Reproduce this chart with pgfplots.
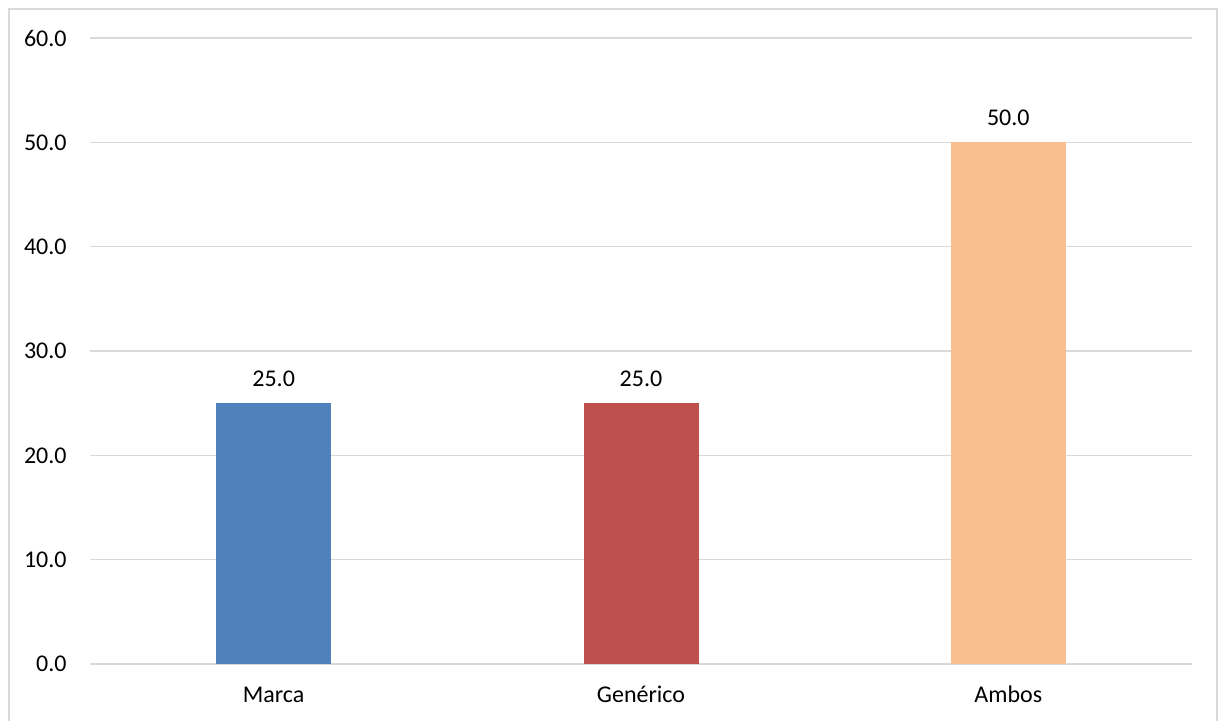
\documentclass[border=0pt]{standalone}
\usepackage{fontspec}
\setmainfont{Carlito}
\usepackage{pgfplots}
\pgfplotsset{compat=1.18}
\definecolor{cblue}{HTML}{4F81BD}
\definecolor{cred}{HTML}{C0504D}
\definecolor{cpeach}{HTML}{F9BF8F}
\definecolor{cgrid}{HTML}{D9D9D9}
\definecolor{cborder}{HTML}{D9D9D9}
\begin{document}
\begin{tikzpicture}[font=\fontsize{12}{14}\selectfont]
\path[use as bounding box, fill=white] (0,0) rectangle (611pt,360.5pt);
\draw[color=cborder, line width=1pt] (4.5pt,-1pt) -- (4.5pt,356pt) -- (608.5pt,356pt) -- (608.5pt,-1pt);
\begin{axis}[
  at={(45pt,28.5pt)}, anchor=south west,
  scale only axis, width=551pt, height=313pt,
  xmin=-0.5, xmax=2.5, ymin=0, ymax=60,
  ytick={0,10,20,30,40,50,60},
  xtick={0,1,2},
  xticklabels={Marca,Genérico,Ambos},
  axis line style={draw=none},
  major tick length=0pt,
  ymajorgrids, grid style={cgrid, line width=0.8pt},
  /pgf/number format/assume math mode=true,
  yticklabel style={/pgf/number format/.cd, fixed, fixed zerofill, precision=1, /tikz/.cd, anchor=east, inner sep=0pt, xshift=-11.5pt},
  xticklabel style={anchor=base, inner sep=0pt, yshift=-19.5pt},
  ybar, bar width=57.5pt, bar shift=0pt,
  nodes near coords={\pgfmathprintnumber[fixed,fixed zerofill,precision=1,assume math mode=true]{\pgfplotspointmeta}},
  nodes near coords style={anchor=base, inner sep=0pt, yshift=8.5pt, text=black},
  clip=false,
]
\addplot[fill=cblue, draw=none] coordinates {(0,25)};
\addplot[fill=cred, draw=none] coordinates {(1,25)};
\addplot[fill=cpeach, draw=none] coordinates {(2,50)};
\end{axis}
\end{tikzpicture}
\end{document}
